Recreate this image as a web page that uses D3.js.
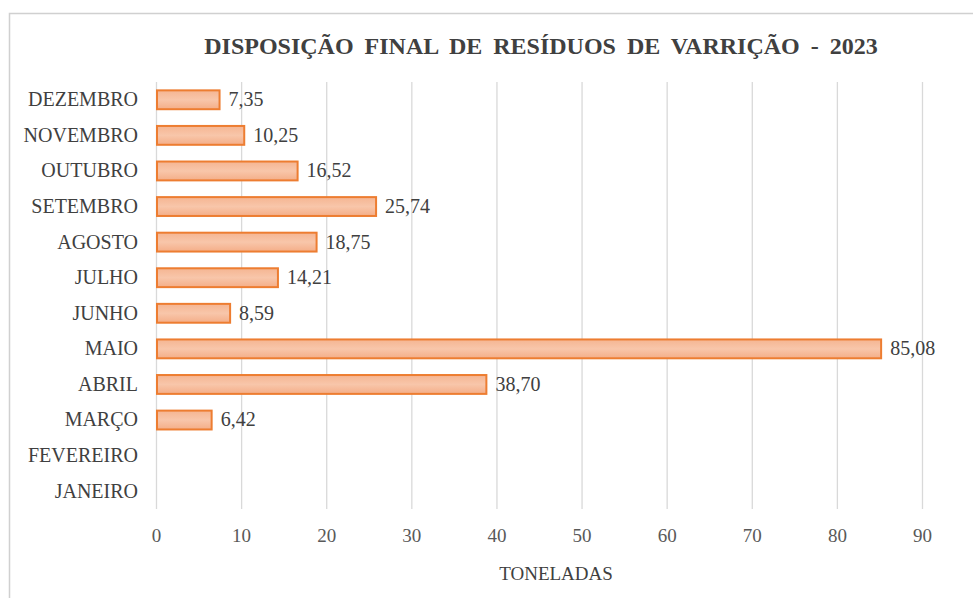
<!DOCTYPE html>
<html>
<head>
<meta charset="utf-8">
<script src="https://cdn.jsdelivr.net/npm/d3@7"></script>
<style>
  body { margin: 0; background: #fff; }
</style>
</head>
<body>
<svg></svg>
<script>
// months top to bottom, as in the chart
const months = ['DEZEMBRO', 'NOVEMBRO', 'OUTUBRO', 'SETEMBRO', 'AGOSTO', 'JULHO',
                'JUNHO', 'MAIO', 'ABRIL', 'MARÇO', 'FEVEREIRO', 'JANEIRO'];
const tons = [7.35, 10.25, 16.52, 25.74, 18.75, 14.21, 8.59, 85.08, 38.70, 6.42, null, null];
const xTicks = [0, 10, 20, 30, 40, 50, 60, 70, 80, 90];

const width = 973;
const height = 598;
const margin = { top: 82, right: 51, bottom: 89, left: 156 };
const serif = 'Liberation Serif';

const data = months.map((m, i) => ({ month: m, value: tons[i] }));

const svg = d3.select('svg')
              .attr('width', width)
              .attr('height', height)
              .attr('font-family', serif);

// chart frame
svg.append('rect')
   .attr('x', 9.5).attr('y', 13.5)
   .attr('width', 980).attr('height', 620)
   .attr('fill', 'none')
   .attr('stroke', '#d0d0d0')
   .attr('stroke-width', 1.5);

const xScale = d3.scaleLinear()
                 .domain([0, 90])
                 .range([margin.left, width - margin.right]);

const yScale = d3.scaleBand()
                 .domain(months)
                 .range([margin.top, height - margin.bottom])
                 .paddingInner(0.47)
                 .paddingOuter(0.235);

const defs = svg.append('defs');
const grad = defs.append('linearGradient')
                 .attr('id', 'barGrad')
                 .attr('x1', 0).attr('y1', 0).attr('x2', 0).attr('y2', 1);
grad.append('stop').attr('offset', '0%').attr('stop-color', '#f5b592');
grad.append('stop').attr('offset', '50%').attr('stop-color', '#f8c6aa');
grad.append('stop').attr('offset', '100%').attr('stop-color', '#f4ae88');

// gridlines
const xAxis = d3.axisBottom(xScale)
                .tickValues(xTicks)
                .tickSize(-(height - margin.bottom - margin.top))
                .tickSizeOuter(0)
                .tickPadding(20);

const gx = svg.append('g')
              .attr('transform', `translate(0, ${height - margin.bottom})`)
              .call(xAxis)
              .attr('font-family', serif)
              .attr('font-size', 19);
gx.select('.domain').remove();
gx.selectAll('line').attr('stroke', '#d9d9d9').attr('stroke-width', 1.3);
gx.selectAll('text')
  .attr('fill', '#595959')
  .attr('font-family', serif)
  .attr('font-size', 19);

// category labels
svg.append('g')
   .selectAll('text')
   .data(months)
   .enter()
   .append('text')
     .text((d) => d)
     .attr('x', margin.left - 18)
     .attr('y', (d) => yScale(d) + yScale.bandwidth() / 2)
     .attr('dy', '0.32em')
     .attr('text-anchor', 'end')
     .attr('fill', '#404040')
     .attr('font-family', serif)
     .attr('font-size', 20);

const withValues = data.filter((d) => d.value != null);

svg.append('g')
   .selectAll('rect')
   .data(withValues)
   .enter()
   .append('rect')
     .attr('x', xScale(0) + 1)
     .attr('y', (d) => yScale(d.month))
     .attr('width', (d) => xScale(d.value) - xScale(0))
     .attr('height', yScale.bandwidth())
     .attr('fill', 'url(#barGrad)')
     .attr('stroke', '#ed7d31')
     .attr('stroke-width', 2);

svg.append('g')
   .selectAll('text')
   .data(withValues)
   .enter()
   .append('text')
     .text((d) => d.value.toFixed(2).replace('.', ','))
     .attr('x', (d) => xScale(d.value) + 10)
     .attr('y', (d) => yScale(d.month) + yScale.bandwidth() / 2)
     .attr('dy', '0.32em')
     .attr('fill', '#404040')
     .attr('font-family', serif)
     .attr('font-size', 20);

svg.append('text')
   .text('DISPOSIÇÃO FINAL DE RESÍDUOS DE VARRIÇÃO - 2023')
   .attr('x', 541)
   .attr('y', 54)
   .attr('text-anchor', 'middle')
   .attr('fill', '#404040')
   .attr('font-family', serif)
   .attr('font-size', 24)
   .attr('font-weight', 'bold')
   .attr('word-spacing', 5);

svg.append('text')
   .text('TONELADAS')
   .attr('x', 556)
   .attr('y', 580)
   .attr('text-anchor', 'middle')
   .attr('fill', '#404040')
   .attr('font-family', serif)
   .attr('font-size', 19);
</script>
</body>
</html>
